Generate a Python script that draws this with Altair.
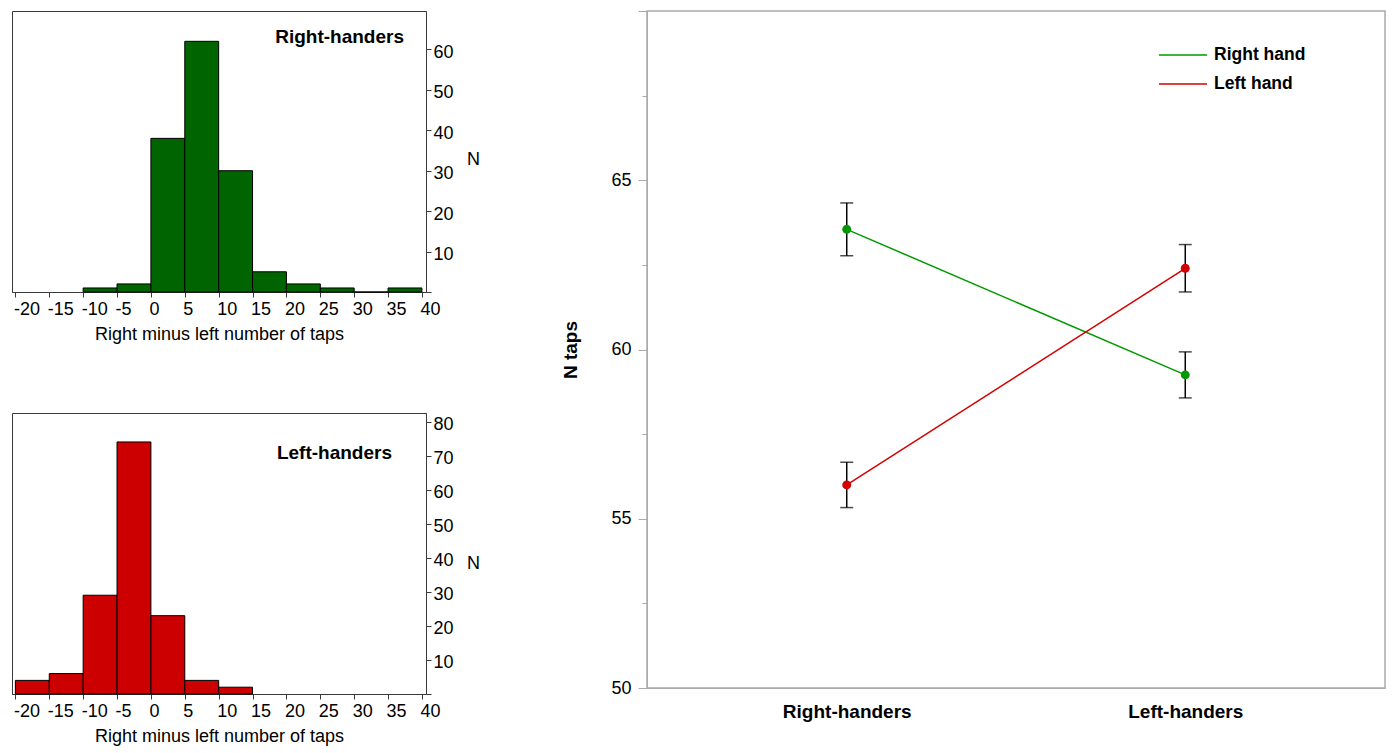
import altair as alt
import pandas as pd

# ---------------- data ----------------
bin_width = 5
rh_bin_start = [-10, -5, 0, 5, 10, 15, 20, 25, 30, 35]
rh_counts = [1, 2, 38, 62, 30, 5, 2, 1, 0, 1]
lh_bin_start = [-20, -15, -10, -5, 0, 5, 10]
lh_counts = [4, 6, 29, 74, 23, 4, 2]
x_ticks = [-20, -15, -10, -5, 0, 5, 10, 15, 20, 25, 30, 35, 40]
rh_y_ticks = [0, 10, 20, 30, 40, 50, 60]
lh_y_ticks = [0, 10, 20, 30, 40, 50, 60, 70, 80]

groups = ["Right-handers", "Left-handers"]
hands = ["Right hand", "Left hand"]
right_hand_mean = [63.55, 59.25]
right_hand_err = [0.78, 0.68]
left_hand_mean = [56.0, 62.4]
left_hand_err = [0.67, 0.70]
n_taps_ticks = [50, 52.5, 55, 57.5, 60, 62.5, 65, 67.5, 70]

FONT = "Liberation Sans"
HIST_FRAME = "#3a3a3a"
GRAY = "#aaaaaa"


def hist(starts, counts, color, label, ymax, yvals, label_x, label_y, n_title_y):
    df = pd.DataFrame({
        "start": starts,
        "end": [s + bin_width for s in starts],
        "count": counts,
    })
    bars = alt.Chart(df).mark_rect(color=color, stroke="black", strokeWidth=1).encode(
        x=alt.X("start:Q",
                scale=alt.Scale(domain=[-20.5, 40.6], nice=False, zero=False),
                axis=alt.Axis(values=x_ticks, title="Right minus left number of taps",
                              labelExpr="'' + datum.value", labelAlign="left",
                              labelOffset=-2,
                              labelFontSize=18, titleFontSize=18, titleFontWeight="normal",
                              tickSize=5, labelPadding=3, titlePadding=7,
                              domainColor=HIST_FRAME, tickColor=HIST_FRAME,
                              labelColor="black", titleColor="black", labelFlush=False)),
        x2="end:Q",
        y=alt.Y("count:Q",
                scale=alt.Scale(domain=[0, ymax], nice=False),
                axis=alt.Axis(orient="right", values=yvals,
                              labelExpr="datum.value == 0 ? '' : datum.label",
                              title="N", titleAngle=0, titleAlign="center",
                              titleBaseline="middle", titleX=47, titleY=n_title_y,
                              titleFontSize=18, titleFontWeight="normal",
                              labelFontSize=18, tickSize=5, labelPadding=2,
                              labelOffset=3,
                              domainColor=HIST_FRAME, tickColor=HIST_FRAME,
                              labelColor="black", titleColor="black")),
    )
    txt = alt.Chart(pd.DataFrame({"label": [label]})).mark_text(
        align="right", baseline="middle", font=FONT, fontSize=19,
        fontWeight="bold", color="black",
    ).encode(text="label:N", x=alt.value(label_x), y=alt.value(label_y))
    return alt.layer(
        bars, txt, view=alt.ViewBackground(stroke=HIST_FRAME, strokeWidth=1)
    ).properties(width=414, height=281)


top = hist(rh_bin_start, rh_counts, "#006400", groups[0], 69.5, rh_y_ticks, 392, 26, 148)
bottom = hist(lh_bin_start, lh_counts, "#cc0000", groups[1], 82.5, lh_y_ticks, 380, 40, 150)

# ---------------- right panel ----------------
df = pd.DataFrame({
    "group": groups * 2,
    "hand": [hands[0]] * 2 + [hands[1]] * 2,
    "mean": right_hand_mean + left_hand_mean,
    "err": right_hand_err + left_hand_err,
})

base = alt.Chart(df).transform_calculate(
    lo="datum.mean - datum.err", hi="datum.mean + datum.err"
)

x_enc = alt.X("group:N", sort=groups,
              scale=alt.Scale(type="point", padding=0.59),
              axis=alt.Axis(title=None, labelAngle=0, labelFontWeight="bold",
                            labelFontSize=19, ticks=False, domainColor=GRAY,
                            labelPadding=14, labelColor="black"))

y_axis = alt.Axis(values=n_taps_ticks,
                  labelExpr="(datum.value % 5 === 0 && datum.value < 70) ? datum.label : ''",
                  tickSize={"condition": {"test": "datum.value % 5 === 0", "value": 9}, "value": 5},
                  title="N taps", titleFontSize=19, titleFontWeight="bold",
                  labelFontSize=18, labelPadding=7, titlePadding=30,
                  domainColor=GRAY, tickColor=GRAY, labelColor="black", titleColor="black")
y_scale = alt.Scale(domain=[50, 70], nice=False, zero=False)

color_scale = alt.Scale(domain=hands, range=["#009900", "#d40000"])

lines = base.mark_line(strokeWidth=1.5).encode(
    x=x_enc,
    y=alt.Y("mean:Q", scale=y_scale, axis=y_axis),
    color=alt.Color("hand:N", scale=color_scale,
                    legend=alt.Legend(title=None, orient="none", legendX=1162, legendY=35,
                                      symbolType="M-3,0H3", symbolSize=256,
                                      symbolStrokeWidth=1.5, labelOffset=22,
                                      labelFontSize=17.5, labelFontWeight="bold",
                                      labelFont=FONT, labelColor="black",
                                      rowPadding=11, padding=0)),
)
bars = base.mark_rule(color="black", strokeWidth=1.5).encode(
    x=x_enc,
    y=alt.Y("lo:Q", scale=y_scale, axis=y_axis),
    y2="hi:Q",
)
caps_lo = base.mark_tick(color="black", size=13, thickness=1.5).encode(
    x=x_enc, y=alt.Y("lo:Q", scale=y_scale, axis=y_axis)
)
caps_hi = base.mark_tick(color="black", size=13, thickness=1.5).encode(
    x=x_enc, y=alt.Y("hi:Q", scale=y_scale, axis=y_axis)
)
points = base.mark_circle(size=80, opacity=1).encode(
    x=x_enc,
    y=alt.Y("mean:Q", scale=y_scale, axis=y_axis),
    color=alt.Color("hand:N", scale=color_scale, legend=None),
)

right = alt.layer(lines, bars, caps_lo, caps_hi, points,
                  view=alt.ViewBackground(stroke=GRAY, strokeWidth=1.5)
                  ).properties(width=738, height=677)

chart = alt.hconcat(
    alt.vconcat(top, bottom, spacing=68),
    right,
    spacing=81,
).properties(
    padding={"left": 3, "top": 1, "right": 5, "bottom": 5}
).configure(
    font=FONT
).configure_axis(
    grid=False, labelFont=FONT, titleFont=FONT
)

chart.save("out.html", embed_options={"renderer": "svg", "actions": False})
